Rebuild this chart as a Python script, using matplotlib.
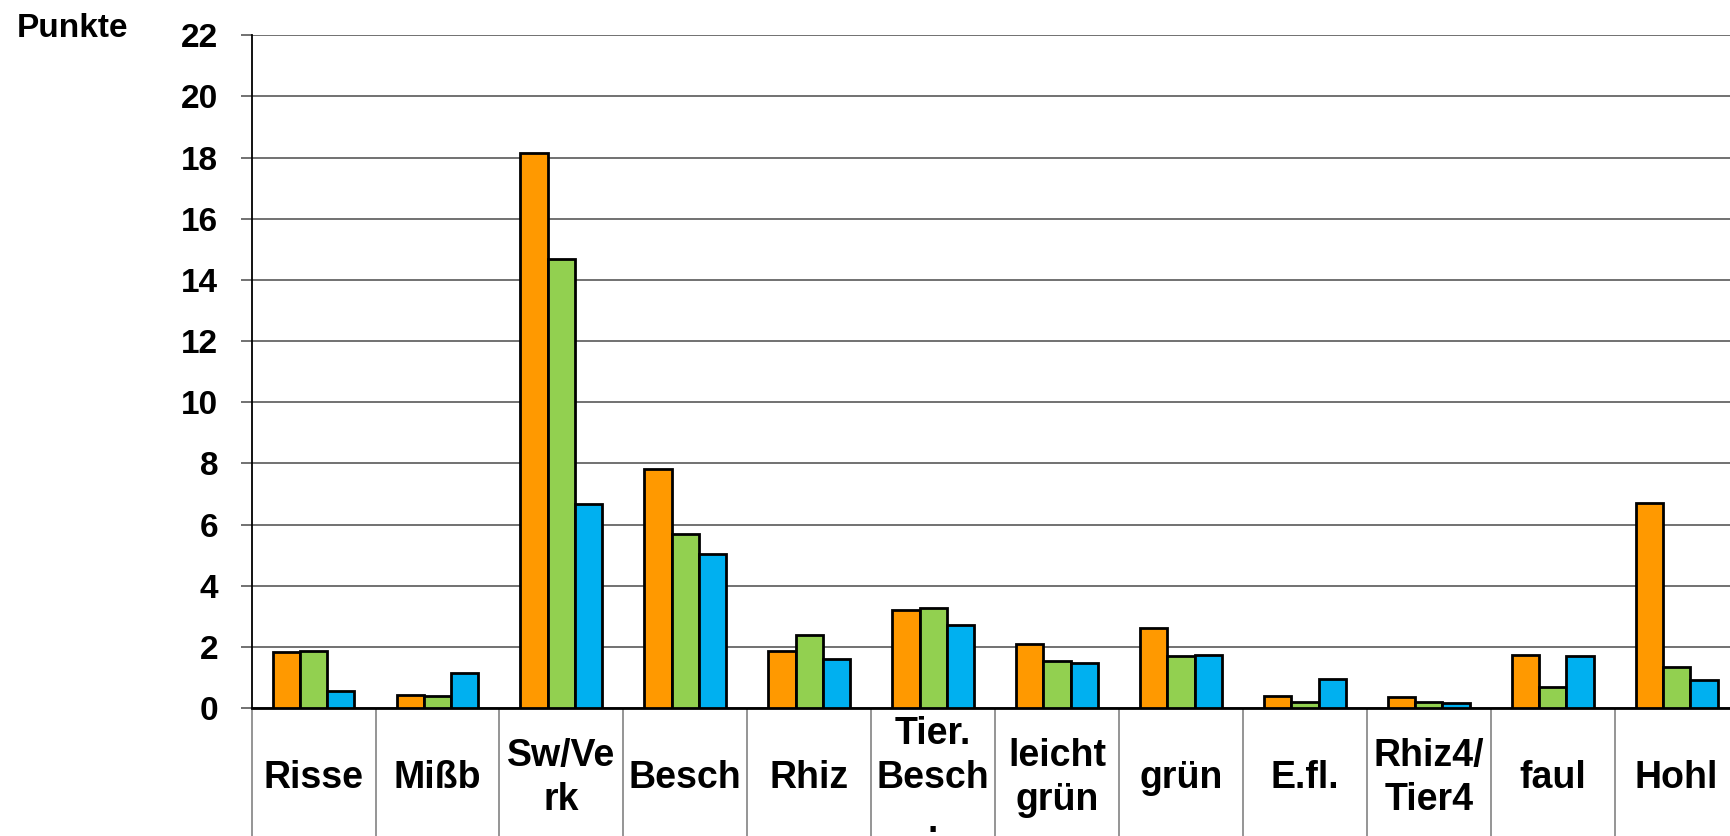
import matplotlib.pyplot as plt
import matplotlib.transforms as mtransforms
import numpy as np

plt.rcParams['font.family'] = ['Liberation Sans', 'DejaVu Sans']
plt.rcParams['font.weight'] = 'bold'

categories = ["Risse", "Mißb", "Sw/Ve\nrk", "Besch", "Rhiz", "Tier.\nBesch\n.",
              "leicht\ngrün", "grün", "E.fl.", "Rhiz4/\nTier4", "faul", "Hohl"]
orange_vals = [1.84, 0.43, 18.14, 7.83, 1.88, 3.21, 2.09, 2.60, 0.40, 0.36, 1.73, 6.71]
green_vals = [1.87, 0.40, 14.68, 5.70, 2.38, 3.28, 1.55, 1.70, 0.18, 0.18, 0.69, 1.33]
blue_vals = [0.54, 1.15, 6.67, 5.05, 1.59, 2.70, 1.48, 1.73, 0.94, 0.15, 1.70, 0.90]
yticks = list(range(0, 23, 2))

colors = ['#FF9900', '#92D050', '#00B0F0']

fig = plt.figure(figsize=(17.30, 8.36), dpi=100)
# axes runs a bit past the right edge like in the original screenshot
ax = fig.add_axes([251.6 / 1730, (836 - 708) / 836, 1487 / 1730, 672.7 / 836])

x = np.arange(len(categories))
w = 0.22
for k, (vals, c) in enumerate(zip([orange_vals, green_vals, blue_vals], colors)):
    ax.bar(x + (k - 1) * w, vals, width=w, color=c, edgecolor='black',
           linewidth=2, zorder=3)

ax.set_xlim(-0.5, len(categories) - 0.5)
ax.set_ylim(0, 22)
ax.set_yticks(yticks)
ax.set_yticklabels([str(t) for t in yticks], fontsize=24, fontweight='bold')
ax.yaxis.grid(True, color='#666666', linewidth=1.3, zorder=0)
ax.tick_params(axis='y', length=8, width=1.3, color='#666666', pad=16)
ax.set_xticks([])
for s in ['top', 'right']:
    ax.spines[s].set_visible(False)
ax.spines['left'].set_linewidth(1.3)
ax.spines['bottom'].set_linewidth(2)

# category table under the axis
trans = mtransforms.blended_transform_factory(ax.transData, ax.transAxes)
for b in np.arange(len(categories) + 1) - 0.5:
    ax.plot([b, b], [0, -0.2], transform=trans, color='#8c8c8c',
            linewidth=1.3, clip_on=False)
for i, lab in enumerate(categories):
    ax.text(i, -(778 - 708) / 672.7, lab, transform=trans, ha='center', va='center',
            fontsize=27, fontweight='bold', linespacing=1.3)

fig.text(17 / 1730, (836 - 37) / 836, "Punkte", fontsize=24, fontweight='bold',
         ha='left', va='baseline')

plt.savefig('out.png', dpi=100)
